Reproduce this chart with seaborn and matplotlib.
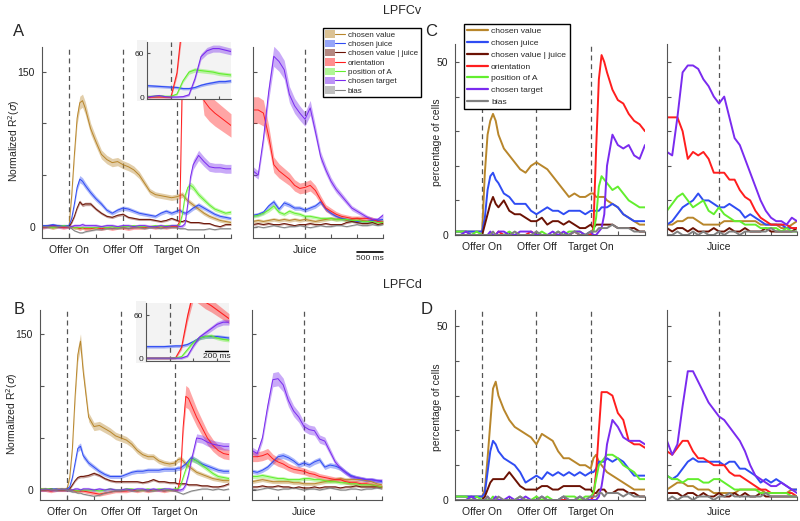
import numpy as np
import pandas as pd
import seaborn as sns
import matplotlib.pyplot as plt
from matplotlib.patches import Patch, Rectangle
from matplotlib.lines import Line2D
from matplotlib.legend_handler import HandlerTuple

# time grids (ms)
T_MAIN = [-500, -400, -300, -200, -100, 0, 50, 100, 150, 200, 250, 300,
          400, 500, 600, 700, 800, 900, 1000, 1100, 1200, 1300, 1400, 1500,
          1600, 1700, 1800, 1900, 2000, 2050, 2100, 2150, 2200, 2250, 2300,
          2400, 2500, 2600, 2700, 2800, 2900, 3000]
T_JUICE = list(range(-1000, 1501, 100))
T_INSET = list(range(-200, 501, 50))

NAMES = ['chosen value', 'chosen juice', 'chosen value | juice', 'orientation',
         'position of A', 'chosen target', 'bias']
COLORS = ['#b8862b', '#2f4cf3', '#6b1204', '#ff1e1e', '#62ee2e', '#7a2bef', '#808080']

# ---- A: LPFCv, normalized R2 ----
A_CV = [0, 1, 0, 1, 0, 0, 30, 70, 105, 120, 122, 115, 95, 82, 70, 65, 62, 63, 60, 58, 55, 50, 42, 34, 31, 30, 29, 28, 29, 30, 31, 28, 25, 23, 21, 17, 13, 10, 8, 6, 5, 4]
A_CJ = [1, 1, 2, 1, 1, 1, 8, 22, 38, 46, 44, 40, 33, 27, 22, 16, 13, 16, 18, 17, 15, 13, 12, 11, 10, 13, 15, 13, 15, 16, 14, 13, 14, 16, 18, 21, 18, 15, 12, 10, 9, 8]
A_CVJ = [0, 0, 1, 0, 0, 0, 4, 10, 18, 24, 21, 22, 22, 17, 13, 10, 9, 11, 12, 9, 8, 7, 7, 7, 6, 5, 6, 8, 6, 5, 5, 6, 5, 4, 4, 4, 3, 3, 1, 0, 2, 2]
A_ORI = [-1, 0, -1, 0, -1, 0, 0, -1, -1, -2, -1, -2, -2, -1, -2, -1, -2, -1, -1, -2, -1, -1, -1, 0, -1, 0, -1, 0, 0, 5, 150, 220, 240, 230, 210, 170, 122, 115, 110, 106, 102, 98]
A_POS = [0, 0, -1, 0, 1, 0, 0, -1, -1, -1, -1, -1, -1, -1, 0, -1, 0, -1, 0, 0, 1, 0, 0, 0, 1, 0, 1, 1, 1, 2, 12, 30, 38, 40, 38, 31, 26, 21, 17, 15, 13, 14]
A_CT = [0, 0, 1, 0, 0, 0, 0, 1, 1, 1, 2, 1, 1, 1, 0, 1, 1, 0, 1, 1, 0, 1, 1, 0, 0, 1, 0, 1, 1, 0, 0.5, 3, 22, 48, 60, 69, 63, 58, 57, 57, 56, 56]
A_BIAS = [0, 0, 0, 0, 0, 0, -2, -4, -5, -6, -6, -5, -4, -3, -3, -2, -2, -2, -1, -2, -1, -1, -2, -1, -1, -2, -1, -1, -1, -2, -2, -2, -3, -3, -3, -3, -3, -2, -3, -2, -2, -2]

A_CV_J = [5, 6, 5, 6, 7, 6, 7, 6, 7, 6, 7, 6, 5, 6, 7, 8, 7, 8, 6, 7, 8, 6, 5, 6, 6, 5]
A_CJ_J = [11, 12, 14, 20, 24, 17, 23, 21, 18, 18, 16, 18, 20, 24, 17, 13, 10, 8, 7, 6, 5, 5, 5, 6, 6, 7]
A_CVJ_J = [2, 3, 2, 3, 2, 2, 3, 2, 1, 2, 2, 3, 2, 2, 3, 2, 2, 2, 4, 5, 4, 3, 3, 4, 2, 3]
A_ORI_J = [113, 113, 110, 88, 60, 54, 50, 46, 40, 37, 38, 40, 35, 26, 18, 15, 12, 10, 9, 8, 8, 8, 8, 7, 5, 4]
A_POS_J = [10, 11, 13, 16, 20, 14, 12, 15, 13, 12, 10, 10, 9, 8, 8, 8, 7, 7, 7, 6, 6, 5, 5, 5, 4, 4]
A_CT_J = [54, 50, 85, 130, 165, 160, 152, 128, 117, 110, 104, 115, 92, 68, 55, 44, 36, 30, 24, 18, 15, 12, 9, 7, 7, 11]
A_BIAS_J = [-1, 0, -1, 0, 1, 0, -1, 0, 0, 1, 0, -1, 0, 1, 0, 0, 1, 1, 0, 1, 2, 1, 1, 2, 1, 2]

AI_CJ = [15.5, 15, 14.5, 14, 13.5, 13, 11.5, 11.5, 13, 16, 18, 19.5, 21, 21, 22]
AI_ORI = [0, 0, 0, 0, 0, 33, 110, 160, 190, 200, 200, 195, 190, 180, 170]
AI_POS = [1, 1, 2, 1, 1, 4, 22, 34, 37, 36, 35, 34, 32, 31, 30]
AI_CT = [0, 1, 2, 0.5, 0, 0, 0.5, 3, 25, 55, 63, 66, 66, 64, 62]

# ---- B: LPFCd, normalized R2 ----
B_CV = [1, 1, 0, 1, 1, 1, 12, 40, 90, 130, 143, 114, 70, 61, 62, 59, 56, 52, 50, 48, 44, 38, 34, 32, 32, 28, 26, 25, 26, 29, 30, 28, 25, 23, 21, 17, 15, 13, 11, 10, 9, 9]
B_CJ = [1, 0, 1, 1, 0, 1, 3, 12, 26, 40, 42, 33, 26, 22, 18, 15, 13, 13, 13, 15, 17, 18, 18, 19, 19, 19, 20, 20, 20, 21, 21, 23, 25, 28, 31, 28, 25, 23, 21, 19, 18, 18]
B_CVJ = [0, 0, 1, 0, 0, 0, 1, 5, 9, 12, 13, 13, 14, 16, 14, 11, 9, 8, 8, 8, 8, 8, 7, 8, 10, 8, 8, 7, 7, 6, 6, 6, 6, 5, 5, 5, 4, 4, 3, 3, 4, 6]
B_ORI = [0, 0, -1, 0, 0, 0, 0, 0, -1, -1, -1, -1, -2, -3, -4, -3, -2, -1, -1, -1, 0, -1, 0, -1, 0, 0, -1, 0, 0, 0, 12, 60, 90, 88, 82, 70, 60, 50, 43, 38, 35, 34]
B_POS = [1, 1, 1, 0, 1, 0, 0, 0, 0, -1, 0, 0, 0, 0, -1, 0, 1, 0, 0, 1, 1, 0, 0, 1, 0, 1, 1, 0, 1, 1, 4, 12, 20, 26, 30, 28, 24, 20, 16, 13, 12, 11]
B_CT = [0, 1, 0, 0, 1, 0, 0, 0, 1, 1, 0, 1, 1, 0, 1, 0, 1, 0, 0, 1, 0, 1, 1, 0, 1, 0, 1, 1, 0, 0, 0, 1, 5, 15, 28, 50, 49, 46, 44, 43, 42, 42]
B_BIAS = [0, 0, 0, 0, 0, 0, -1, -2, -2, -3, -3, -4, -5, -6, -5, -3, -2, -1, -1, 0, -1, -1, 0, -1, -1, 0, -1, 0, -1, -2, -3, -4, -3, -2, -1, 0, 1, 1, 0, 1, 0, 1]

B_CV_J = [8, 9, 10, 9, 8, 8, 8, 8, 7, 7, 6, 6, 6, 7, 8, 9, 10, 11, 10, 10, 10, 10, 9, 8, 6, 5]
B_CJ_J = [18, 17, 19, 22, 27, 32, 33, 31, 28, 24, 26, 24, 27, 29, 22, 24, 23, 21, 17, 14, 12, 11, 10, 10, 9, 8]
B_CVJ_J = [3, 3, 4, 3, 3, 4, 3, 3, 2, 3, 2, 2, 3, 2, 3, 3, 3, 2, 3, 3, 4, 3, 3, 3, 3, 3]
B_ORI_J = [32, 32, 33, 35, 30, 27, 25, 22, 20, 19, 18, 16, 15, 13, 12, 11, 10, 10, 8, 7, 7, 6, 6, 5, 4, 3]
B_POS_J = [13, 13, 14, 13, 12, 11, 11, 10, 10, 10, 11, 11, 10, 10, 9, 8, 8, 7, 7, 6, 6, 5, 5, 5, 4, 3]
B_CT_J = [38, 35, 50, 80, 106, 107, 101, 86, 76, 70, 61, 58, 57, 49, 47, 37, 27, 21, 17, 13, 12, 11, 10, 10, 9, 9]
B_BIAS_J = [1, 0, 1, 2, 1, 0, 1, 1, 2, 1, 0, 1, 1, 0, 1, 2, 1, 0, 0, 1, 1, 0, 1, 1, 2, 1]

BI_CJ = [16, 16, 16, 16, 16.5, 17, 17, 19, 23, 28, 30, 30, 30, 29, 28]
BI_ORI = [0, 0, 0, 0, 0, 0.5, 15, 58, 92, 85, 78, 73, 67, 61, 55]
BI_POS = [0, 0, 0, 0, 0, 0.5, 2, 12, 22, 28, 30, 31, 28, 26, 25]
BI_CT = [0, 0, 0, 0, 0, 0, 0, 3, 17, 29, 35, 41, 47, 50, 50]

# ---- C: LPFCv, percentage of cells ----
C_CV = [1, 1, 1, 1, 1, 1, 18, 29, 33, 35, 33, 29, 25, 23, 21, 19, 18, 20, 21, 20, 19, 17, 15, 13, 11, 12, 11, 11, 12, 12, 11, 11, 11, 11, 10, 9, 8, 6, 5, 4, 3, 3]
C_CJ = [1, 1, 1, 1, 1, 1, 5, 13, 17, 18, 16, 15, 12, 11, 9, 9, 9, 7, 6, 7, 8, 7, 7, 6, 7, 7, 7, 6, 7, 7, 7, 7, 8, 8, 8, 9, 8, 6, 5, 4, 4, 4]
C_CVJ = [0, 0, 0, 0, 0, 0, 3, 6, 9, 11, 9, 8, 10, 7, 6, 6, 5, 4, 4, 5, 3, 4, 4, 3, 4, 3, 2, 2, 3, 2, 3, 3, 3, 3, 3, 3, 2, 2, 2, 2, 1, 1]
C_ORI = [0, 0, 0, 0, 0, 0, 0, 0, 0, 0, 0, 1, 0, 0, 0, 0, 0, 1, 0, 0, 0, 0, 0, 0, 0, 1, 0, 0, 0, 2, 25, 45, 52, 50, 47, 42, 39, 38, 35, 33, 32, 30]
C_POS = [1, 1, 1, 0, 1, 0, 0, 0, 0, 0, 0, 0, 0, 1, 0, 0, 0, 0, 0, 1, 0, 0, 1, 0, 1, 1, 1, 0, 1, 1, 5, 14, 17, 16, 15, 13, 14, 12, 10, 9, 8, 8]
C_CT = [0, 0, 1, 0, 0, 0, 0, 0, 1, 0, 0, 1, 1, 0, 0, 1, 1, 1, 0, 0, 0, 1, 0, 1, 0, 1, 1, 0, 1, 0, 0, 1, 2, 6, 20, 29, 26, 25, 26, 23, 22, 26]
C_BIAS = [0, 0, 0, 0, 0, 0, 0, 0, 0, 1, 0, 0, 0, 0, 1, 0, 0, 0, 1, 0, 0, 0, 1, 0, 0, 1, 0, 0, 1, 1, 1, 2, 2, 2, 2, 3, 2, 2, 2, 1, 1, 1]

C_CV_J = [3, 3, 4, 4, 5, 5, 4, 3, 3, 3, 3, 4, 4, 4, 4, 4, 4, 4, 3, 3, 3, 3, 2, 2, 3, 4]
C_CJ_J = [3, 4, 6, 8, 9, 10, 12, 10, 10, 9, 8, 8, 9, 8, 7, 5, 6, 5, 4, 3, 3, 3, 3, 2, 2, 2]
C_CVJ_J = [2, 1, 2, 2, 1, 2, 1, 1, 1, 2, 1, 1, 2, 1, 1, 2, 1, 1, 1, 2, 1, 1, 1, 1, 1, 2]
C_ORI_J = [34, 34, 34, 30, 22, 24, 23, 24, 22, 18, 18, 18, 16, 16, 13, 11, 10, 7, 5, 4, 3, 3, 3, 3, 2, 2]
C_POS_J = [7, 9, 11, 12, 10, 8, 9, 10, 7, 6, 8, 6, 5, 4, 4, 3, 3, 3, 2, 2, 2, 2, 1, 2, 1, 1]
C_CT_J = [24, 23, 34, 47, 49, 49, 48, 45, 43, 40, 38, 40, 34, 28, 26, 22, 18, 14, 10, 7, 5, 4, 4, 3, 5, 4]
C_BIAS_J = [0, 0, 1, 0, 0, 1, 0, 1, 0, 0, 1, 0, 1, 1, 0, 1, 1, 1, 1, 1, 2, 1, 1, 1, 1, 1]

# ---- D: LPFCd, percentage of cells ----
D_CV = [1, 1, 1, 1, 1, 1, 3, 12, 22, 32, 34, 30, 26, 23, 21, 20, 19, 18, 16, 19, 18, 17, 14, 12, 12, 11, 10, 10, 9, 12, 13, 11, 10, 9, 8, 7, 6, 5, 4, 3, 3, 3]
D_CJ = [1, 1, 1, 1, 1, 1, 2, 8, 14, 17, 16, 14, 12, 11, 10, 8, 5, 6, 7, 6, 8, 7, 8, 7, 8, 7, 8, 7, 8, 8, 9, 11, 11, 11, 12, 11, 12, 11, 9, 7, 7, 7]
D_CVJ = [0, 0, 0, 0, 0, 0, 1, 3, 5, 6, 6, 6, 6, 8, 6, 4, 3, 3, 3, 4, 4, 3, 3, 4, 4, 4, 4, 3, 3, 2, 2, 3, 3, 3, 2, 2, 3, 3, 2, 2, 1, 1]
D_ORI = [0, 0, 0, 0, 0, 0, 0, 0, 0, 0, 0, 0, 0, 0, 0, 0, 0, 0, 0, 0, 0, 0, 0, 0, 0, 0, 0, 0, 0, 1, 8, 20, 31, 31, 31, 30, 25, 23, 17, 16, 16, 15]
D_POS = [1, 1, 1, 0, 1, 0, 0, 0, 0, 1, 0, 0, 0, 0, 0, 1, 0, 0, 1, 0, 1, 0, 0, 1, 1, 1, 0, 1, 1, 2, 6, 10, 11, 12, 13, 13, 12, 10, 9, 8, 6, 6]
D_CT = [0, 0, 0, 1, 0, 0, 0, 1, 0, 0, 1, 0, 0, 1, 0, 0, 1, 0, 0, 1, 0, 0, 0, 1, 0, 0, 1, 0, 0, 0, 0, 1, 4, 9, 16, 23, 21, 18, 17, 17, 17, 16]
D_BIAS = [0, 0, 0, 0, 0, 0, 0, 1, 0, 0, 0, 1, 0, 0, 0, 1, 0, 0, 0, 1, 0, 0, 0, 1, 0, 0, 1, 0, 1, 1, 1, 2, 2, 1, 2, 2, 2, 1, 2, 1, 1, 1]

D_CV_J = [3, 4, 5, 5, 4, 4, 3, 3, 3, 2, 2, 2, 2, 2, 3, 3, 3, 3, 3, 2, 2, 2, 2, 2, 3, 3]
D_CJ_J = [7, 6, 7, 9, 11, 12, 11, 11, 11, 11, 11, 10, 11, 11, 9, 9, 8, 7, 5, 6, 5, 6, 5, 4, 3, 3]
D_CVJ_J = [2, 2, 2, 1, 2, 2, 1, 2, 1, 1, 2, 1, 1, 2, 1, 2, 1, 1, 2, 1, 1, 1, 1, 1, 1, 1]
D_ORI_J = [14, 13, 15, 17, 17, 14, 12, 12, 11, 10, 10, 10, 8, 7, 7, 6, 5, 4, 3, 3, 2, 2, 2, 2, 2, 1]
D_POS_J = [7, 6, 6, 5, 6, 6, 6, 5, 5, 6, 6, 5, 4, 3, 3, 3, 3, 3, 2, 2, 2, 2, 2, 2, 1, 1]
D_CT_J = [17, 13, 16, 27, 37, 37, 34, 31, 28, 26, 24, 23, 21, 19, 17, 14, 10, 7, 6, 5, 4, 4, 5, 4, 3, 2]
D_BIAS_J = [0, 1, 0, 1, 1, 0, 1, 1, 1, 0, 1, 1, 2, 1, 1, 1, 1, 1, 1, 2, 1, 1, 1, 1, 1, 1]

# band half-width (base, fraction of value) for the R2 panels
BAND = [(1.5, 0.04), (1.2, 0.05), (0.8, 0.04), (1.5, 0.1), (1.2, 0.05), (1.5, 0.05), (0.6, 0.0)]

sns.set_style('ticks')
plt.rcParams['font.family'] = ['Liberation Sans', 'DejaVu Sans']

W, H = 800, 521
fig = plt.figure(figsize=(W / 100, H / 100), dpi=100)


def add_ax(x0, x1, y0, y1):
    return fig.add_axes([x0 / W, 1 - y1 / H, (x1 - x0) / W, (y1 - y0) / H])


def draw(ax, t, series, idx, lw, bands):
    names = [NAMES[i] for i in idx]
    cols = [COLORS[i] for i in idx]
    if bands:
        for v, i in zip(series, idx):
            v = np.asarray(v, float)
            h = BAND[i][0] + BAND[i][1] * np.abs(v)
            ax.fill_between(t, v - h, v + h, color=COLORS[i], alpha=0.4, lw=0)
    df = pd.DataFrame({'t': np.tile(t, len(series)),
                       'value': np.concatenate([np.asarray(s, float) for s in series]),
                       'variable': np.repeat(names, len(t))})
    sns.lineplot(data=df, x='t', y='value', hue='variable', hue_order=names,
                 palette=cols, estimator=None, lw=lw, legend=False, ax=ax)
    ax.set_xlabel('')
    ax.set_ylabel('')


def style(ax, xlim, ylim, xticks, xlabels, yticks, ylabels, events, size=7.5):
    ax.set_xlim(xlim)
    ax.set_ylim(ylim)
    ax.set_xticks(xticks)
    ax.set_xticklabels(xlabels)
    ax.set_yticks(yticks)
    ax.set_yticklabels(ylabels)
    sns.despine(ax=ax)
    ax.patch.set_alpha(0)
    for s in ['left', 'bottom']:
        ax.spines[s].set_color('#555555')
        ax.spines[s].set_linewidth(0.8)
    ax.tick_params(direction='in', length=3, width=0.8, color='#555555',
                   labelsize=size, labelcolor='#222222', pad=5)
    for e in events:
        ax.axvline(e, color='#555555', lw=0.9, ls=(0, (4, 3)), zorder=0)


MAIN_XT = [0, 500, 1000, 1500, 2000, 2500, 3000]
MAIN_XL = ['Offer On', '', 'Offer Off', '', 'Target On', '', '']
JUICE_XT = [-500, 0, 500, 1000, 1500]
JUICE_XL = ['', 'Juice', '', '', '']
ALL7 = list(range(7))
INSET_IDX = [1, 3, 4, 5]

panels = [
    # main box, juice box, ylim, yticks, ylabels, main data, juice data, bands
    ((42, 231, 47, 238), (253, 383, 47, 238), (-11, 174), [0, 50, 100, 150], ['0', '', '', '150'],
     [A_CV, A_CJ, A_CVJ, A_ORI, A_POS, A_CT, A_BIAS],
     [A_CV_J, A_CJ_J, A_CVJ_J, A_ORI_J, A_POS_J, A_CT_J, A_BIAS_J], True),
    ((40, 229, 310, 500), (252, 382, 310, 500), (-9.6, 173), [0, 50, 100, 150], ['0', '', '', '150'],
     [B_CV, B_CJ, B_CVJ, B_ORI, B_POS, B_CT, B_BIAS],
     [B_CV_J, B_CJ_J, B_CVJ_J, B_ORI_J, B_POS_J, B_CT_J, B_BIAS_J], True),
    ((455, 645, 44, 235), (667, 797, 44, 235), (0, 55.2), [0, 10, 20, 30, 40, 50], ['0', '', '', '', '', '50'],
     [C_CV, C_CJ, C_CVJ, C_ORI, C_POS, C_CT, C_BIAS],
     [C_CV_J, C_CJ_J, C_CVJ_J, C_ORI_J, C_POS_J, C_CT_J, C_BIAS_J], False),
    ((455, 645, 310, 500), (667, 797, 310, 500), (0, 54.6), [0, 10, 20, 30, 40, 50], ['0', '', '', '', '', '50'],
     [D_CV, D_CJ, D_CVJ, D_ORI, D_POS, D_CT, D_BIAS],
     [D_CV_J, D_CJ_J, D_CVJ_J, D_ORI_J, D_POS_J, D_CT_J, D_BIAS_J], False),
]

juice_axes = []
for mbox, jbox, ylim, yt, yl, mdata, jdata, bands in panels:
    lw = 0.7 if bands else 1.4
    ax = add_ax(*mbox)
    draw(ax, T_MAIN, mdata, ALL7, lw, bands)
    style(ax, (-500, 3000), ylim, MAIN_XT, MAIN_XL, yt, yl, [0, 1000, 2000])
    axj = add_ax(*jbox)
    draw(axj, T_JUICE, jdata, ALL7, lw, bands)
    style(axj, (-1000, 1500), ylim, JUICE_XT, JUICE_XL, yt, [''] * len(yt), [0])
    juice_axes.append(axj)

# insets around Target On, on a light grey card
insets = [((147, 231, 42, 99), (-2.7, 75), [AI_CJ, AI_ORI, AI_POS, AI_CT]),
          ((146, 229, 303, 361), (-4, 76.7), [BI_CJ, BI_ORI, BI_POS, BI_CT])]
inset_axes = []
for box, ylim, data in insets:
    x0, x1, y0, y1 = box
    fig.patches.append(Rectangle(((x0 - 10) / W, 1 - (y1 + 2) / H), 10 / W, (y1 - y0 + 4) / H,
                                 transform=fig.transFigure, facecolor='#f3f3f3',
                                 edgecolor='none', zorder=1.5))
    axi = add_ax(*box)
    axi.set_zorder(2)
    draw(axi, T_INSET, data, INSET_IDX, 0.8, True)
    style(axi, (-200, 500), ylim, [200, 400], ['', ''], [0, 60], ['0', '60'], [0], size=6)
    axi.patch.set_alpha(1)
    axi.set_facecolor('#f3f3f3')
    axi.tick_params(pad=2, length=2)
    inset_axes.append(axi)

# scale bars
axj = juice_axes[0]
axj.plot([1000, 1500], [-0.075, -0.075], color='black', lw=1.2,
         transform=axj.get_xaxis_transform(), clip_on=False)
axj.text(1250, -0.105, '500 ms', transform=axj.get_xaxis_transform(),
         ha='center', va='center', fontsize=6)
axi = inset_axes[1]
axi.plot([300, 500], [10, 10], color='black', lw=1.0)
axi.text(400, 2.5, '200 ms', ha='center', va='center', fontsize=6)

# text
fig.text(19 / W, 1 - 31 / H, 'A', fontsize=12, ha='center', va='center')
fig.text(19 / W, 1 - 310 / H, 'B', fontsize=12, ha='center', va='center')
fig.text(431 / W, 1 - 31 / H, 'C', fontsize=12, ha='center', va='center')
fig.text(427 / W, 1 - 310 / H, 'D', fontsize=12, ha='center', va='center')
fig.text(402 / W, 1 - 11 / H, 'LPFCv', fontsize=9, ha='center', va='center')
fig.text(402 / W, 1 - 285 / H, 'LPFCd', fontsize=9, ha='center', va='center')
fig.text(14 / W, 1 - 141 / H, r'Normalized R$^2$($\sigma$)', fontsize=7.5, rotation=90, ha='center', va='center')
fig.text(12 / W, 1 - 414 / H, r'Normalized R$^2$($\sigma$)', fontsize=7.5, rotation=90, ha='center', va='center')
fig.text(437 / W, 1 - 142 / H, 'percentage of cells', fontsize=7.5, rotation=90, ha='center', va='center')
fig.text(437 / W, 1 - 407 / H, 'percentage of cells', fontsize=7.5, rotation=90, ha='center', va='center')

# legends
band_handles = [(Patch(facecolor=c, alpha=0.5, edgecolor='none'), Line2D([], [], color=c, lw=0.8))
                for c in COLORS]
fig.legend(band_handles, NAMES, loc='upper left', bbox_to_anchor=(323 / W, 1 - 28 / H),
           handler_map={tuple: HandlerTuple(ndivide=None, pad=0)},
           fontsize=5.8, frameon=True, fancybox=False, edgecolor='black', framealpha=1,
           handlelength=2.4, handleheight=1.0, handletextpad=0.4, labelspacing=0.12,
           borderpad=0.3, borderaxespad=0)
line_handles = [Line2D([], [], color=c, lw=1.6) for c in COLORS]
fig.legend(line_handles, NAMES, loc='upper left', bbox_to_anchor=(464 / W, 1 - 24 / H),
           fontsize=6.1, frameon=True, fancybox=False, edgecolor='black', framealpha=1,
           handlelength=2.4, handletextpad=0.4, labelspacing=0.45,
           borderpad=0.4, borderaxespad=0)

fig.savefig('out.png', dpi=100)
